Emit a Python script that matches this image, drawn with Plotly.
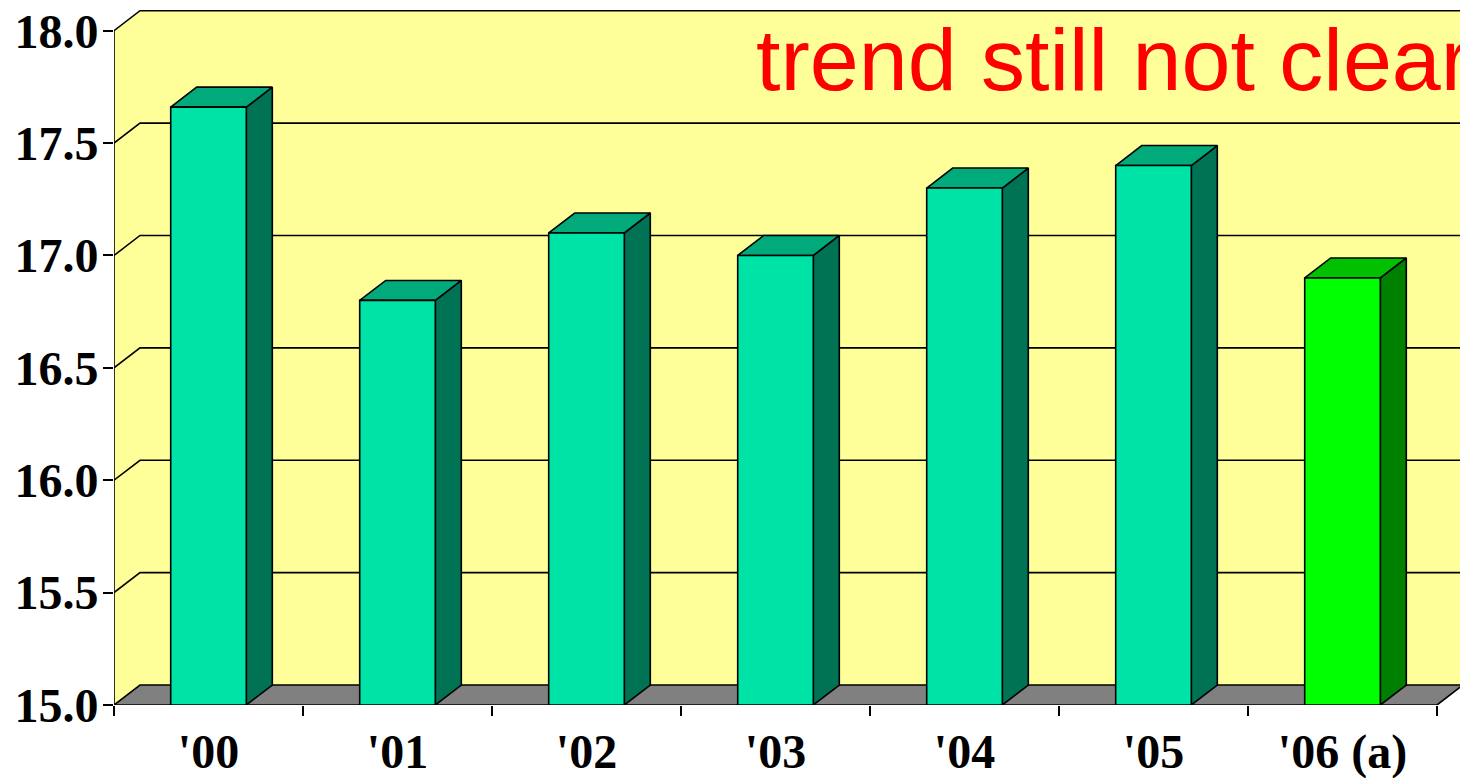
import plotly.graph_objects as go

# ---- data ----
categories = ["'00", "'01", "'02", "'03", "'04", "'05", "'06 (a)"]
values = [17.66, 16.80, 17.10, 17.00, 17.30, 17.40, 16.90]
y_ticks = [15.0, 15.5, 16.0, 16.5, 17.0, 17.5, 18.0]
title_text = "trend still not clear"

# ---- geometry / style ----
OFF = 8                      # default page body margin
W, H = 1468 - OFF, 778 - OFF
ML, MB = 114 - OFF, 72.5
PX_PER_CAT = 189.0
PX_PER_UNIT = 224.93
Y0, Y1 = 15.0, 18.0
DX = 26 / PX_PER_CAT          # depth offset in category units
DY = 20 / PX_PER_UNIT         # depth offset in value units
BAR_W = 0.4
N = len(categories)

face_cols = ["#00E3A6"] * (N - 1) + ["#00FF00"]
top_cols = ["#00AA7A"] * (N - 1) + ["#00C000"]
side_cols = ["#007354"] * (N - 1) + ["#008000"]
YELLOW = "#FFFF99"
FLOOR = "#808080"
LW = 1.6

fig = go.Figure()


def poly(xs, ys, fill, line=True):
    fig.add_trace(go.Scatter(
        x=xs + [xs[0]], y=ys + [ys[0]], mode="lines", fill="toself",
        fillcolor=fill,
        line=dict(color="black" if line else fill, width=LW if line else 0),
        hoverinfo="skip", showlegend=False))


def polyline(xs, ys, width=LW):
    fig.add_trace(go.Scatter(x=xs, y=ys, mode="lines",
                             line=dict(color="black", width=width),
                             hoverinfo="skip", showlegend=False))


# walls
poly([DX, N + DX, N + DX, DX], [Y0 + DY, Y0 + DY, Y1 + DY, Y1 + DY], YELLOW, line=False)
poly([0, DX, DX, 0], [Y0, Y0 + DY, Y1 + DY, Y1], YELLOW, line=False)

# gridlines on side wall + back wall
for v in y_ticks[1:-1]:
    polyline([0, DX, N + DX], [v, v + DY, v + DY])

# wall outline
polyline([0, 0, DX, N + DX, N + DX], [Y0, Y1, Y1 + DY, Y1 + DY, Y0 + DY])

# floor
poly([0, N, N + DX, DX], [Y0, Y0, Y0 + DY, Y0 + DY], FLOOR)

# bars
for i, v in enumerate(values):
    x0 = i + 0.5 - BAR_W / 2
    x1 = i + 0.5 + BAR_W / 2
    poly([x1, x1 + DX, x1 + DX, x1], [Y0, Y0 + DY, v + DY, v], side_cols[i])
    poly([x0, x1, x1 + DX, x0 + DX], [v, v, v + DY, v + DY], top_cols[i])
    poly([x0, x1, x1, x0], [Y0, Y0, v, v], face_cols[i])

plot_w = W - ML
plot_h = H - MB
x_max = plot_w / PX_PER_CAT
y_top = Y0 + plot_h / PX_PER_UNIT

fig.update_layout(
    width=W, height=H,
    margin=dict(l=ML, r=0, t=0, b=MB, pad=0, autoexpand=False),
    paper_bgcolor="white", plot_bgcolor="white",
    showlegend=False,
    xaxis=dict(
        range=[0, x_max], showgrid=False, zeroline=False, showline=False,
        automargin=False,
        tickvals=[i + 0.5 for i in range(N)], ticktext=categories,
        ticks="", ticklabelstandoff=14, ticklabeloverflow="allow",
        tickfont=dict(family="Liberation Serif", size=48,
                      color="black", weight="bold"),
        minor=dict(tickvals=list(range(N + 1)), ticks="outside", ticklen=10,
                   tickwidth=LW, tickcolor="black", showgrid=False),
        fixedrange=True,
    ),
    yaxis=dict(
        range=[Y0, y_top], showgrid=False, zeroline=False, showline=False,
        automargin=False,
        tickvals=y_ticks, ticktext=[f"{t:.1f}" for t in y_ticks],
        ticks="outside", ticklen=10, tickwidth=LW, tickcolor="black",
        ticklabelstandoff=-5, ticklabeloverflow="allow",
        tickfont=dict(family="Liberation Serif", size=48, color="black",
                      weight="bold"),
        fixedrange=True,
    ),
    annotations=[dict(
        text=title_text, xref="x", yref="y", x=(754 - 114) / PX_PER_CAT,
        y=Y0 + (705.5 - 60) / PX_PER_UNIT, xanchor="left", yanchor="middle",
        showarrow=False,
        font=dict(family="Liberation Sans", size=88, color="#FF0000"),
    )],
)

fig.write_html("out.html")
